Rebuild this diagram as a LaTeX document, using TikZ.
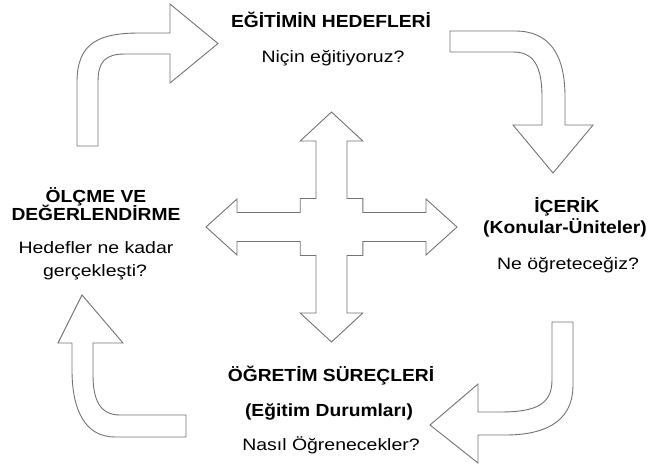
\documentclass[tikz,border=0pt]{standalone}
\usepackage{fontspec}
\newfontfamily\regf[FakeStretch=1.18]{Liberation Sans}
\newfontfamily\boldf[FakeStretch=1.1]{Liberation Sans Bold}
\begin{document}
\begin{tikzpicture}[x=1pt,y=-1pt,
  shp/.style={draw=black!55,fill=white,line width=0.9pt,line join=miter},
  ttl/.style={anchor=base,inner sep=0pt,font=\boldf\fontsize{17.5}{19}\selectfont},
  txt/.style={anchor=base,inner sep=0pt,font=\regf\fontsize{16.5}{18}\selectfont}]
\useasboundingbox (0,0) rectangle (650,465);
% top-left curved arrow
\draw[shp] (77,146) -- (77,82) .. controls (77,42) and (100,33) .. (140,33) -- (170,33)
  -- (170,4) -- (218,43.5) -- (170,83) -- (170,54) -- (125,54)
  .. controls (105,54) and (98,62) .. (98,82) -- (98,146) -- cycle;
% top-right curved arrow
\draw[shp] (450,31) -- (515,31) .. controls (550,31) and (565,55) .. (565,97) -- (565,125)
  -- (593,125) -- (553,173) -- (513,125) -- (542,125) -- (542,97)
  .. controls (542,65) and (533,52) .. (513,52) -- (450,52) -- cycle;
% bottom-right curved arrow
\draw[shp] (552,322) -- (573,322) -- (573,385) .. controls (573,425) and (540,435) .. (505,435)
  -- (478,435) -- (478,463) -- (430,425) -- (478,384) -- (478,412) -- (500,412)
  .. controls (535,412) and (552,405) .. (552,380) -- cycle;
% bottom-left curved arrow
\draw[shp] (186,415) -- (120,415) .. controls (100,415) and (93,400) .. (93,375) -- (93,343)
  -- (123,343) -- (82,295) -- (58,343) -- (72,343) -- (72,370)
  .. controls (72,410) and (85,437) .. (115,437) -- (186,437) -- cycle;
% cross arrow
\begin{scope}[shift={(331.5,227)}]
\draw[shp] (0,-115) -- (31.3,-86) -- (15.5,-86) -- (15.5,-28.5) -- (31.3,-28.5) -- (31.3,-14.5)
  -- (94.5,-14.5) -- (94.5,-28) -- (125.5,0) -- (94.5,28) -- (94.5,14.5) -- (31.3,14.5)
  -- (31.3,28.5) -- (15.5,28.5) -- (15.5,86) -- (31.3,86) -- (0,115) -- (-31.3,86)
  -- (-15.5,86) -- (-15.5,28.5) -- (-31.3,28.5) -- (-31.3,14.5) -- (-94.5,14.5)
  -- (-94.5,28) -- (-125.5,0) -- (-94.5,-28) -- (-94.5,-14.5) -- (-31.3,-14.5)
  -- (-31.3,-28.5) -- (-15.5,-28.5) -- (-15.5,-86) -- (-31.3,-86) -- cycle;
\end{scope}
% texts
\node[ttl] (t1) at (331,28) {EĞİTİMİN HEDEFLERİ};
\node[txt] (t2) at (333,63) {Niçin eğitiyoruz?};
\node[ttl] (r1) at (567,212) {İÇERİK};
\node[ttl] (r2) at (565,233) {(Konular-Üniteler)};
\node[txt] (r3) at (568,269) {Ne öğreteceğiz?};
\node[ttl] (l1) at (96,202) {ÖLÇME VE};
\node[ttl] (l2) at (96,220) {DEĞERLENDİRME};
\node[txt] (l3) at (96,253) {Hedefler ne kadar};
\node[txt] (l4) at (95,276) {gerçekleşti?};
\node[ttl] (b1) at (331,381) {ÖĞRETİM SÜREÇLERİ};
\node[ttl] (b2) at (329,416) {(Eğitim Durumları)};
\node[txt] (b3) at (331,450) {Nasıl Öğrenecekler?};
\end{tikzpicture}
\end{document}
